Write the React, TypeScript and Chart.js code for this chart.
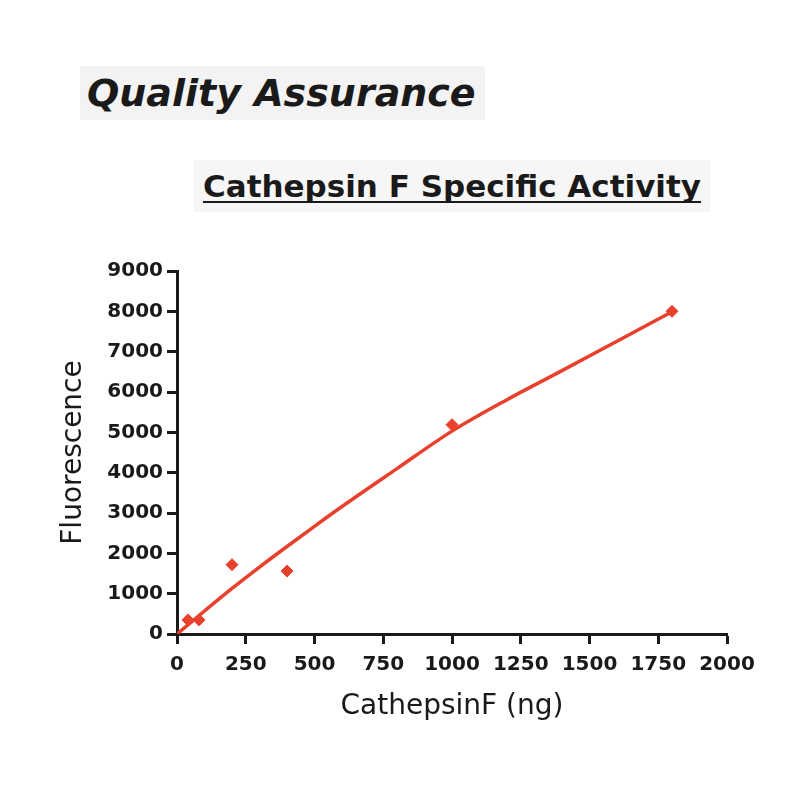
import { useEffect, useRef } from "react"
import { Chart, registerables } from "chart.js"

// Register Chart.js components
Chart.register(...registerables)

// measured points (ng of enzyme vs. fluorescence)
const amounts = [40, 80, 200, 400, 1000, 1800]
const fluorescence = [350, 350, 1720, 1560, 5190, 8000]

// fitted curve
const fitAmounts = [0, 100, 200, 300, 400, 500, 600, 800, 1000, 1200, 1400, 1600, 1800]
const fitFluorescence = [0, 570, 1130, 1660, 2170, 2670, 3160, 4100, 5030, 5810, 6530, 7260, 7990]

// tick labels
const xTicks = [0, 250, 500, 750, 1000, 1250, 1500, 1750, 2000]
const yTicks = [0, 1000, 2000, 3000, 4000, 5000, 6000, 7000, 8000, 9000]

const RED = "#e8402c"
const INK = "#1a1a1a"

export default function App() {
  const chartRef = useRef<HTMLCanvasElement>(null)
  const chartInstance = useRef<Chart | null>(null)

  useEffect(() => {
    if (!chartRef.current) return
    if (chartInstance.current) chartInstance.current.destroy()

    const ctx = chartRef.current.getContext("2d")
    if (!ctx) return

    Chart.defaults.font.family = "'DejaVu Sans', Verdana, sans-serif"

    chartInstance.current = new Chart(ctx, {
      type: "scatter",
      data: {
        datasets: [
          {
            label: "Fit",
            data: fitAmounts.map((x, i) => ({ x, y: fitFluorescence[i] })),
            showLine: true,
            borderColor: RED,
            borderWidth: 3.5,
            pointRadius: 0,
            cubicInterpolationMode: "monotone",
          },
          {
            label: "Cathepsin F",
            data: amounts.map((x, i) => ({ x, y: fluorescence[i] })),
            showLine: false,
            pointStyle: "rectRot",
            pointRadius: 6,
            backgroundColor: RED,
            borderColor: RED,
            borderWidth: 1,
          },
        ],
      },
      options: {
        animation: false,
        responsive: true,
        maintainAspectRatio: false,
        layout: {
          padding: { top: 271, right: 73, left: 0, bottom: 0 },
        },
        plugins: {
          legend: { display: false },
          tooltip: { enabled: false },
        },
        scales: {
          x: {
            type: "linear",
            position: "bottom",
            min: 0,
            max: 2000,
            afterBuildTicks: (scale) => {
              scale.ticks = xTicks.map((value) => ({ value }))
            },
            afterFit: (scale) => {
              scale.height = 166
            },
            ticks: {
              autoSkip: false,
              maxRotation: 0,
              padding: 9,
              color: INK,
              font: { size: 20, weight: "bold" },
              callback: (value) => String(value),
            },
            grid: {
              drawOnChartArea: false,
              tickLength: 10,
              tickWidth: 3,
              tickColor: INK,
            },
            border: { display: true, width: 3, color: INK },
            title: {
              display: true,
              text: "CathepsinF (ng)",
              color: INK,
              font: { size: 28 },
              padding: { top: 0, bottom: 76 },
            },
          },
          y: {
            type: "linear",
            min: 0,
            max: 9000,
            afterBuildTicks: (scale) => {
              scale.ticks = yTicks.map((value) => ({ value }))
            },
            afterFit: (scale) => {
              scale.width = 177
            },
            ticks: {
              autoSkip: false,
              padding: 4,
              color: INK,
              font: { size: 20, weight: "bold" },
              callback: (value) => String(value),
            },
            grid: {
              drawOnChartArea: false,
              tickLength: 10,
              tickWidth: 3,
              tickColor: INK,
            },
            border: { display: true, width: 3, color: INK },
            title: {
              display: true,
              text: "Fluorescence",
              color: INK,
              font: { size: 28 },
              padding: { top: 57, bottom: 0 },
            },
          },
        },
      },
    })

    return () => {
      if (chartInstance.current) {
        chartInstance.current.destroy()
        chartInstance.current = null
      }
    }
  }, [])

  return (
    <div
      style={{
        position: "fixed",
        left: 0,
        top: 0,
        width: 800,
        height: 800,
        background: "#fff",
        fontFamily: "'DejaVu Sans', Verdana, sans-serif",
        color: INK,
      }}
    >
      <div
        style={{
          position: "absolute",
          left: 80,
          top: 66,
          width: 405,
          height: 54,
          background: "#f3f3f3",
          boxSizing: "border-box",
          paddingLeft: 7,
          lineHeight: "54px",
          fontSize: 38,
          fontWeight: "bold",
          fontStyle: "italic",
          whiteSpace: "nowrap",
        }}
      >
        Quality Assurance
      </div>
      <div
        style={{
          position: "absolute",
          left: 194,
          top: 160,
          width: 516,
          height: 52,
          background: "#f6f6f6",
          lineHeight: "52px",
          fontSize: 31,
          fontWeight: "bold",
          textAlign: "center",
          textDecoration: "underline",
          textDecorationThickness: 2,
          textDecorationSkipInk: "none",
          textUnderlineOffset: 4,
          whiteSpace: "nowrap",
        }}
      >
        Cathepsin F Specific Activity
      </div>
      <div style={{ position: "absolute", left: 0, top: 0, width: 800, height: 800 }}>
        <canvas ref={chartRef} />
      </div>
    </div>
  )
}
